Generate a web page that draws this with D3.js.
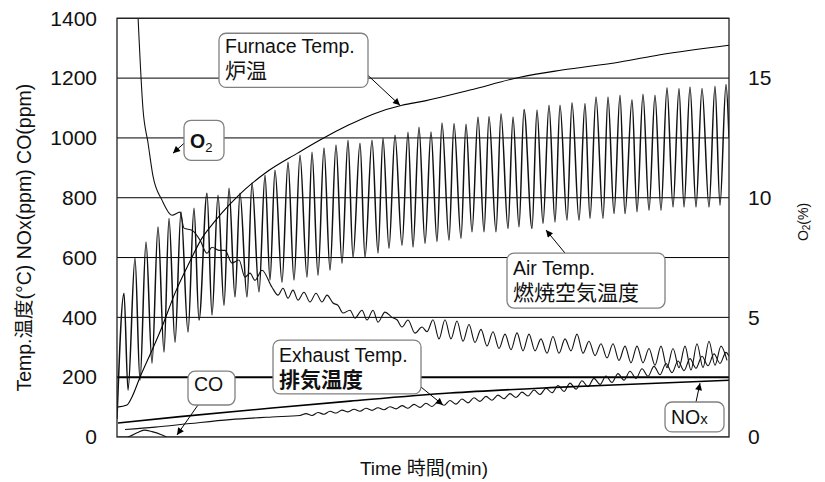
<!DOCTYPE html>
<html>
<head>
<meta charset="utf-8">
<script src="https://cdn.jsdelivr.net/npm/d3@7"></script>
<style>
  body { margin: 0; background: #fff; }
  svg { display: block; font-family: "Liberation Sans", Arial, "Noto Sans CJK JP", sans-serif; }
</style>
</head>
<body>
<div id="chart"></div>
<script>
// ---- data (time in min) ----
const leftTicks = [0, 200, 400, 600, 800, 1000, 1200, 1400];
const rightTicks = [0, 5, 10, 15];

const airTime = [0, 1.75, 2.75, 4.5, 5.75, 7.25, 8.75, 10.25, 11.75, 13,
  14.5, 16, 17.75, 19.25, 20.5, 22.5, 23.75, 25.25, 26.75, 28,
  29.5, 30.75, 32.5, 33.75, 35.5, 37, 38.25, 39.5, 41.25, 42.75,
  44.25, 45.75, 47.5, 48.75, 50.25, 51.75, 53.25, 54.75, 56.25, 57.75,
  59, 60.75, 62, 63.75, 65.25, 66.5, 68, 69.5, 71.25, 72.75,
  74, 75.5, 77, 78.5, 80, 81.25, 83, 84.25, 86, 87.25,
  88.75, 90.25, 91.75, 93, 94.75, 96, 97.75, 99, 100.5, 101.75,
  103.75, 105, 106.5, 108, 109.5, 110.75, 112.5, 113.75, 115.5, 117,
  118.25, 119.75, 121.5, 122.75, 124.25, 125.75, 127, 128.75, 130, 131.5,
  133, 134.5, 136, 137.5, 139, 140.5, 141.75, 143.25, 144.75, 146.25,
  148, 149.5, 150.75, 152.25, 153];
const airTemp = [60, 481, 157, 598, 190, 652, 247, 702, 284, 731,
  317, 752, 351, 765, 391, 815, 408, 808, 440, 832,
  468, 815, 468, 849, 485, 875, 525, 892, 518, 919,
  525, 942, 535, 952, 541, 966, 558, 976, 581, 992,
  601, 982, 601, 992, 615, 999, 631, 1009, 641, 1019,
  635, 1036, 647, 1020, 653, 1050, 658, 1048, 664, 1046,
  686, 1070, 686, 1072, 686, 1081, 697, 1070, 703, 1095,
  697, 1093, 714, 1109, 719, 1109, 725, 1118, 725, 1115,
  731, 1137, 731, 1137, 747, 1143, 747, 1128, 753, 1146,
  758, 1143, 758, 1168, 769, 1165, 769, 1170, 769, 1165,
  769, 1173, 775, 1179, 1000];

const furnaceTime = [0, 2.5, 3.75, 5.75, 8.75, 11.25, 14.5, 18, 21.25, 24.5,
  28, 32, 37, 45.25, 50.75, 57.75, 64.5, 71.25, 77, 88.25,
  100.75, 111.25, 125.75, 135.75, 153];
const furnaceTemp = [100, 107, 134, 200, 290, 368, 481, 581, 665, 722,
  775, 828, 882, 950, 993, 1042, 1082, 1109, 1124, 1160,
  1203, 1227, 1254, 1278, 1310];

const o2Time = [5.25, 6.5, 7.75, 9, 11.25, 13.75, 15.75, 16.75, 18.75, 20.75,
  22.5, 23.75, 25.5, 27, 28.75, 30.5, 32, 33.25, 34.5, 36.25,
  38.75, 40.25, 41.5, 42.75, 44, 45.25, 46.75, 48.25, 49.75, 51.25,
  52.5, 54, 55.25, 56.5, 58.25, 59.5, 61.25, 62.5, 64, 65.25,
  67, 68.75, 70, 71.25, 72.75, 74.5, 76.25, 77.5, 79, 80.5,
  82, 83.5, 85, 86.5, 88, 89.5, 91, 92.5, 94, 95.5,
  97, 98.5, 100, 101.5, 103, 104.5, 106, 107.5, 109, 110.5,
  112, 113.5, 115, 116.5, 118, 119.5, 121, 122.5, 124, 125.5,
  127, 128.5, 130, 131.5, 133, 134.5, 136, 137.5, 139, 140.5,
  142, 143.5, 145, 146.5, 148, 149.5, 151, 152.5];
const o2Pct = [17.6, 13.7, 12.3, 10.9, 9.9, 9.27, 9.4, 8.73, 8.64, 8.23,
  7.68, 7.93, 7.8, 7.8, 7.27, 7.4, 6.68, 6.85, 6.55, 6.97,
  6.26, 5.93, 6.22, 5.8, 6.14, 5.72, 6.05, 5.64, 6.01, 5.64,
  5.93, 5.6, 5.5, 5.18, 5.3, 4.97, 5.3, 4.89, 5.3, 4.8,
  5.22, 5.0, 4.9, 4.6, 4.89, 4.34, 4.6, 4.4, 4.9, 4.1,
  4.9, 4.1, 4.85, 4.0, 4.7, 3.95, 4.5, 3.8, 4.4, 3.7,
  4.3, 3.65, 4.35, 3.6, 4.3, 3.6, 4.1, 3.5, 4.2, 3.5,
  4.1, 3.6, 4.3, 3.5, 4.0, 3.4, 3.9, 3.3, 3.9, 3.2,
  3.8, 3.1, 3.8, 3.1, 3.7, 3.0, 3.8, 2.9, 3.7, 2.9,
  3.8, 2.8, 3.9, 2.9, 4.0, 3.0, 3.8, 3.2];

const exhaustTime = [2, 9.5, 18.25, 28.25, 38.75, 45.75, 47.25, 48.75, 50.25, 51.75,
  53.25, 54.75, 56.25, 57.75, 59.25, 60.75, 62.25, 63.75, 65.25, 66.75,
  68.25, 69.75, 71.25, 72.75, 74.25, 75.75, 77.25, 78.75, 80.25, 81.75,
  83.25, 84.75, 86.25, 87.75, 89.25, 90.75, 92.25, 93.75, 95.25, 96.75,
  98.25, 99.75, 101.25, 102.75, 104.25, 105.75, 107.25, 108.75, 110.25, 111.75,
  113.25, 114.75, 116.25, 117.75, 119.25, 120.75, 122.25, 123.75, 125.25, 126.75,
  128.25, 129.75, 131.25, 132.75, 134.25, 135.75, 137.25, 138.75, 140.25, 141.75,
  143.25, 144.75, 146.25, 147.75, 149.25, 150.75, 152.25, 153];
const exhaustTemp = [25, 33, 45, 58, 67, 72, 78, 72, 82, 76,
  86, 80, 90, 84, 93, 86, 96, 89, 98, 91,
  101, 94, 105, 96, 109, 99, 113, 102, 117, 106,
  122, 110, 127, 114, 131, 119, 136, 123, 140, 128,
  145, 132, 150, 137, 157, 142, 163, 148, 172, 152,
  180, 160, 188, 168, 196, 176, 204, 182, 212, 190,
  220, 196, 228, 203, 236, 208, 246, 215, 254, 222,
  262, 230, 270, 238, 278, 246, 283, 270];

const noxTime = [0.25, 15.75, 38.75, 58.25, 83.25, 108.25, 133.25, 153];
const noxPpm = [47, 68, 97, 120, 147, 165, 179, 190];

const coTime = [0, 2.5, 5, 6.75, 8.75, 11.25, 12.5, 153];
const coPpm = [0, 0, 14, 23, 18, 7, 0, 0];

// ---- layout ----
const W = 825, H = 482;
const margin = { top: 18.3, right: 96, bottom: 45, left: 117 };
const innerW = W - margin.left - margin.right;
const innerH = H - margin.top - margin.bottom;

const svg = d3.select('#chart').append('svg')
  .attr('width', W).attr('height', H);

const x = d3.scaleLinear().domain([0, 153]).range([margin.left, margin.left + innerW]);
const yL = d3.scaleLinear().domain([0, 1400]).range([margin.top + innerH, margin.top]);
const yR = d3.scaleLinear().domain([0, 17.5]).range([margin.top + innerH, margin.top]);

const defs = svg.append('defs');
defs.append('clipPath').attr('id', 'plot')
  .append('rect')
  .attr('x', margin.left).attr('y', margin.top)
  .attr('width', innerW).attr('height', innerH);

defs.append('marker')
  .attr('id', 'arrow')
  .attr('viewBox', '0 0 10 10')
  .attr('refX', 10).attr('refY', 5)
  .attr('markerUnits', 'userSpaceOnUse')
  .attr('markerWidth', 8).attr('markerHeight', 7)
  .attr('orient', 'auto')
  .append('path').attr('d', 'M0,0 L10,5 L0,10 z').attr('fill', '#000');

// gridlines
svg.append('g').selectAll('line')
  .data(leftTicks.filter(d => d > 0))
  .join('line')
  .attr('x1', margin.left).attr('x2', margin.left + innerW)
  .attr('y1', d => yL(d)).attr('y2', d => yL(d))
  .attr('stroke', '#000')
  .attr('stroke-width', d => d === 200 ? 2 : 1);

// left ticks
const leftAxis = svg.append('g')
  .attr('transform', `translate(${margin.left},0)`)
  .call(d3.axisLeft(yL).tickValues(leftTicks).tickFormat(d3.format('d')).tickSize(0).tickPadding(20));
leftAxis.select('.domain').remove();
leftAxis.selectAll('text')
  .attr('font-size', 21).attr('fill', '#111')
  .attr('font-family', '"Liberation Sans", Arial, sans-serif');

// right ticks
const rightAxis = svg.append('g')
  .attr('transform', `translate(${margin.left + innerW},0)`)
  .call(d3.axisRight(yR).tickValues(rightTicks).tickFormat(d3.format('d')).tickSize(0).tickPadding(19));
rightAxis.select('.domain').remove();
rightAxis.selectAll('text')
  .attr('font-size', 21).attr('fill', '#111')
  .attr('font-family', '"Liberation Sans", Arial, sans-serif');

// series
const zip = (a, b) => a.map((t, i) => [t, b[i]]);
const lineL = d3.line().x(d => x(d[0])).y(d => yL(d[1])).curve(d3.curveMonotoneX);
const lineR = d3.line().x(d => x(d[0])).y(d => yR(d[1])).curve(d3.curveMonotoneX);

const plot = svg.append('g').attr('clip-path', 'url(#plot)');

const series = [
  { data: zip(airTime, airTemp), gen: lineL, color: '#111', w: 1.5 },
  { data: zip(furnaceTime, furnaceTemp), gen: lineL, color: '#000', w: 1.1 },
  { data: zip(o2Time, o2Pct), gen: lineR, color: '#111', w: 1.1 },
  { data: zip(exhaustTime, exhaustTemp), gen: lineL, color: '#111', w: 1.1 },
  { data: zip(noxTime, noxPpm), gen: lineL, color: '#000', w: 1.6 },
  { data: zip(coTime, coPpm), gen: lineL, color: '#111', w: 1.1 }
];

plot.selectAll('.series')
  .data(series)
  .join('path')
  .attr('class', 'series')
  .attr('fill', 'none')
  .attr('stroke', d => d.color)
  .attr('stroke-width', d => d.w)
  .attr('stroke-linejoin', 'round')
  .attr('d', d => d.gen(d.data));

// frame
svg.append('rect')
  .attr('x', margin.left).attr('y', margin.top)
  .attr('width', innerW).attr('height', innerH)
  .attr('fill', 'none').attr('stroke', '#222').attr('stroke-width', 1.3);

// callouts: box corners and arrow ends in data units (time, left-axis value)
const callouts = [
  { box: [25.5, 1350, 62.75, 1169], arrow: [[62.75, 1209], [70.75, 1109]],
    lines: [{ text: 'Furnace Temp.', dy: 20 }, { text: '炉温', dy: 45, cjk: true }] },
  { box: [97.5, 615, 137, 431], arrow: [[112, 615], [107.25, 692]],
    lines: [{ text: 'Air Temp.', dy: 22 }, { text: '燃焼空気温度', dy: 47, cjk: true }] },
  { box: [39, 324, 76, 144], arrow: [[76, 167], [81.5, 107]],
    lines: [{ text: 'Exhaust Temp.', dy: 22 }, { text: '排気温度', dy: 47, cjk: true, bold: true }] },
  { box: [17.75, 220, 29.5, 107], arrow: [[20.25, 107], [15, 7]],
    lines: [{ text: 'CO', dy: 20 }] },
  { box: [137, 117, 151.75, 17], arrow: [[144.75, 117], [145.75, 180]],
    lines: [{ text: 'NO', sub: 'x', dy: 22 }] },
  { box: [16.75, 1059, 26.75, 925], arrow: [[16.75, 982], [14, 949]],
    lines: [{ text: 'O', sub: '2', dy: 28, bold: true }] }
];

const notes = svg.append('g');
callouts.forEach(c => {
  const x0 = x(c.box[0]), y0 = yL(c.box[1]);
  const x1 = x(c.box[2]), y1 = yL(c.box[3]);
  notes.append('line')
    .attr('x1', x(c.arrow[0][0])).attr('y1', yL(c.arrow[0][1]))
    .attr('x2', x(c.arrow[1][0])).attr('y2', yL(c.arrow[1][1]))
    .attr('stroke', '#000').attr('stroke-width', 1)
    .attr('marker-end', 'url(#arrow)');
  notes.append('rect')
    .attr('x', x0).attr('y', y0)
    .attr('width', x1 - x0).attr('height', y1 - y0)
    .attr('rx', 7).attr('ry', 7)
    .attr('fill', '#fff').attr('stroke', '#808080').attr('stroke-width', 1.3);
  c.lines.forEach(l => {
    const t = notes.append('text')
      .attr('x', x0 + 6).attr('y', y0 + l.dy)
      .attr('fill', '#111')
      .attr('font-size', l.cjk ? 21 : 19.5)
      .attr('font-weight', l.bold ? 'bold' : null)
      .attr('font-family', l.cjk ? '"Noto Sans CJK JP", sans-serif' : '"Liberation Sans", Arial, sans-serif');
    t.append('tspan').text(l.text);
    if (l.sub) {
      t.append('tspan').text(l.sub)
        .attr('font-size', l.sub === '2' ? 13 : 15)
        .attr('dy', l.sub === '2' ? 4 : 0)
        .attr('font-weight', 'normal');
    }
  });
});

// axis titles
svg.append('text')
  .attr('transform', `translate(24,${margin.top + innerH / 2 + 10}) rotate(-90)`)
  .attr('text-anchor', 'middle')
  .attr('dominant-baseline', 'central')
  .attr('font-size', 19.5).attr('fill', '#111')
  .text('Temp.温度(°C) NOx(ppm) CO(ppm)');

svg.append('text')
  .attr('x', margin.left + innerW / 2 + 1).attr('y', 475)
  .attr('text-anchor', 'middle')
  .attr('font-size', 19).attr('fill', '#111')
  .text('Time 時間(min)');

const r = svg.append('text')
  .attr('transform', `translate(803,222) rotate(-90)`)
  .attr('text-anchor', 'middle')
  .attr('dominant-baseline', 'central')
  .attr('font-size', 14).attr('fill', '#111');
r.append('tspan').text('O');
r.append('tspan').text('2').attr('font-size', 10).attr('dy', 3);
r.append('tspan').text('(%)').attr('dy', -3);
</script>
</body>
</html>
